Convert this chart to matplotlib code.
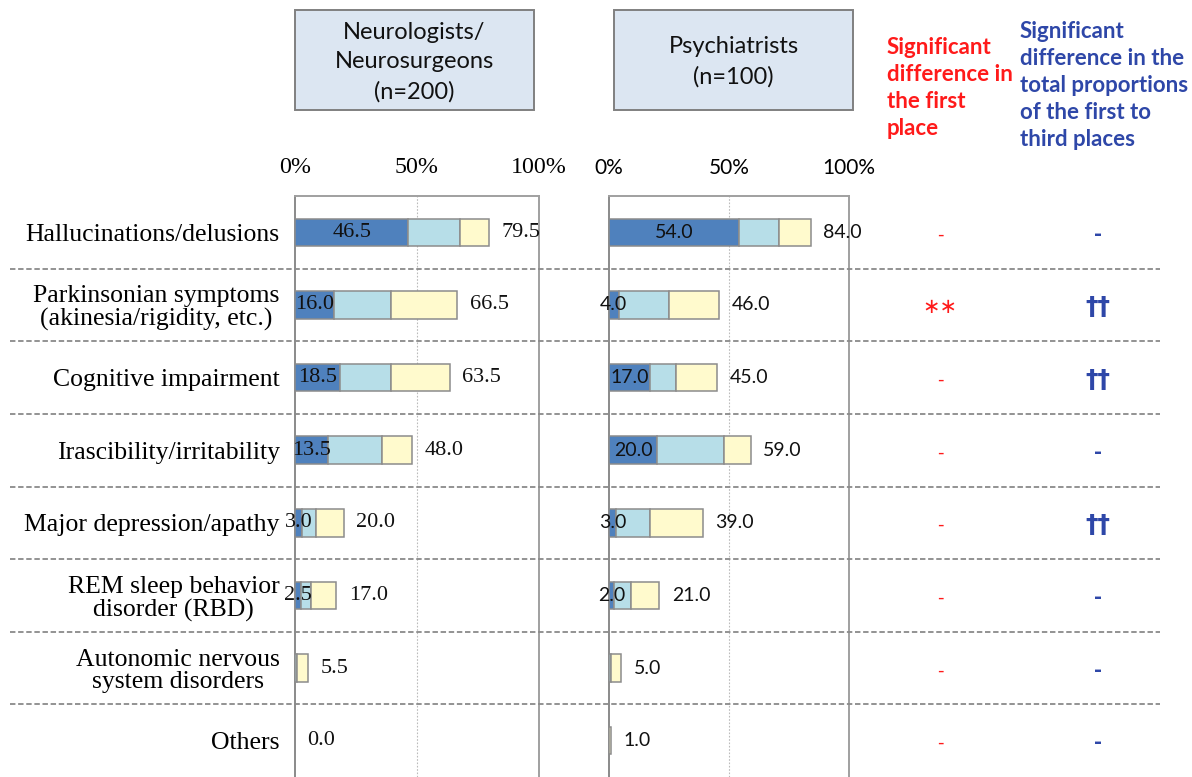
import matplotlib
matplotlib.use('Agg')
import matplotlib.pyplot as plt
from matplotlib.patches import Rectangle
from matplotlib.lines import Line2D
import matplotlib.transforms as mtransforms

categories = ["Hallucinations/delusions",
              "Parkinsonian symptoms\n(akinesia/rigidity, etc.)",
              "Cognitive impairment",
              "Irascibility/irritability",
              "Major depression/apathy",
              "REM sleep behavior\ndisorder (RBD)",
              "Autonomic nervous\nsystem disorders",
              "Others"]

neuro_first = [46.5, 16.0, 18.5, 13.5, 3.0, 2.5, 0.0, 0.0]
neuro_second = [21.0, 23.5, 21.0, 22.0, 5.5, 4.0, 1.0, 0.0]
neuro_third = [12.0, 27.0, 24.0, 12.5, 11.5, 10.5, 4.5, 0.0]
neuro_total = [79.5, 66.5, 63.5, 48.0, 20.0, 17.0, 5.5, 0.0]

psych_first = [54.0, 4.0, 17.0, 20.0, 3.0, 2.0, 0.0, 0.0]
psych_second = [17.0, 21.0, 11.0, 28.0, 14.0, 7.0, 1.0, 0.0]
psych_third = [13.0, 21.0, 17.0, 11.0, 22.0, 12.0, 4.0, 1.0]
psych_total = [84.0, 46.0, 45.0, 59.0, 39.0, 21.0, 5.0, 1.0]

sig_first = ["-", "\u2217\u2217", "-", "-", "-", "-", "-", "-"]
sig_total = ["-", "\u2020\u2020", "\u2020\u2020", "-", "\u2020\u2020", "-", "-", "-"]

x_ticks = [0, 50, 100]
x_ticklabels = ["0%", "50%", "100%"]

W, H = 1192, 777
fig = plt.figure(figsize=(W / 100, H / 100), dpi=100)

SERIF = "Liberation Serif"
SANS = "Lato"
C1, C2, C3 = "#4F81BD", "#B7DEE8", "#FFFACD"
EDGE = "#8C8C8C"
RED = "#FF1A1A"
BLUE = "#2E47A8"


def px_axes(x0, x1, y0, y1):
    return fig.add_axes([x0 / W, 1 - y1 / H, (x1 - x0) / W, (y1 - y0) / H])


ax1 = px_axes(295, 539, 196, 777)
ax2 = px_axes(609, 849, 196, 777)

panels = [
    (ax1, neuro_first, neuro_second, neuro_third, neuro_total, SERIF, 16, 17.3),
    (ax2, psych_first, psych_second, psych_third, psych_total, SANS, 14, 15),
]

y = list(range(len(categories)))
bh = 0.38
for ax, f, s, t, tot, fam, fs, tfs in panels:
    left2 = [a for a in f]
    left3 = [a + b for a, b in zip(f, s)]
    ax.barh(y, f, height=bh, color=C1, edgecolor=EDGE, linewidth=1.1, zorder=3)
    ax.barh(y, s, left=left2, height=bh, color=C2, edgecolor=EDGE, linewidth=1.1, zorder=3)
    ax.barh(y, t, left=left3, height=bh, color=C3, edgecolor=EDGE, linewidth=1.1, zorder=3)
    for i in y:
        if f[i] > 0:
            ax.text(f[i] / 2, i, f"{f[i]:.1f}", ha="center", va="center",
                    family=fam, fontsize=fs, color="#111111", zorder=5)
        ax.annotate(f"{tot[i]:.1f}", xy=(tot[i], i), xytext=(9, 0),
                    textcoords="offset points", ha="left", va="center",
                    family=fam, fontsize=fs, color="#111111", zorder=5)
    ax.set_xlim(0, 100)
    ax.set_ylim(len(categories) - 0.5, -0.5)
    ax.xaxis.tick_top()
    ax.set_xticks(x_ticks)
    ax.set_xticklabels(x_ticklabels, family=fam, fontsize=tfs)
    ax.tick_params(axis="x", length=0, pad=13)
    ax.axvline(50, color="#BBBBBB", linestyle=(0, (1.5, 1.5)), linewidth=0.8, zorder=1)
    for side in ["left", "right", "top"]:
        ax.spines[side].set_color("#A0A0A0")
        ax.spines[side].set_linewidth(1.4)
    ax.spines["left"].set_color("#8A8A8A")
    ax.spines["bottom"].set_visible(False)

ax1.set_yticks(y)
ax1.set_yticklabels(categories, family=SERIF, fontsize=18.5)
for lbl in ax1.get_yticklabels():
    lbl.set_multialignment("center")
    lbl.set_linespacing(1.05)
ax1.tick_params(axis="y", length=0, pad=11)
ax2.set_yticks([])

# Dashed separators spanning the figure
blend = mtransforms.blended_transform_factory(fig.transFigure, ax1.transData)
for yb in [i + 0.5 for i in y[:-1]]:
    fig.add_artist(Line2D([10 / W, 1160 / W], [yb, yb], transform=blend,
                          color="#8A8A8A", linestyle=(0, (3, 1.5)), linewidth=1.3))

# Significance marks
for i in y:
    fig.text(940 / W, i + 0.03, sig_first[i], transform=blend, ha="center", va="center",
             family="DejaVu Sans", fontsize=15 if sig_first[i] != "-" else 13,
             color=RED)
    fig.text(1098 / W, i + 0.03, sig_total[i], transform=blend, ha="center", va="center",
             family="DejaVu Sans", fontsize=18 if sig_total[i] != "-" else 14,
             fontweight="bold", color=BLUE)

# Header boxes
for (x0, x1, label) in [(295, 534, "Neurologists/\nNeurosurgeons\n(n=200)"),
                        (614, 853, "Psychiatrists\n(n=100)")]:
    fig.add_artist(Rectangle((x0 / W, 1 - 110 / H), (x1 - x0) / W, 100 / H,
                             transform=fig.transFigure, facecolor="#DCE6F2",
                             edgecolor="#808080", linewidth=1.4))
    fig.text((x0 + x1) / 2 / W, 1 - 62 / H, label, ha="center", va="center",
             family=SANS, fontsize=17, linespacing=1.5, color="#111111")

# Column headers
fig.text(887 / W, 1 - 37 / H, "Significant\ndifference in\nthe first\nplace",
         ha="left", va="top", family=SANS, fontweight="bold", fontsize=16,
         linespacing=1.36, color=RED)
fig.text(1020 / W, 1 - 21 / H,
         "Significant\ndifference in the\ntotal proportions\nof the first to\nthird places",
         ha="left", va="top", family=SANS, fontweight="bold", fontsize=16,
         linespacing=1.36, color=BLUE)

fig.savefig("out.png", dpi=100)
